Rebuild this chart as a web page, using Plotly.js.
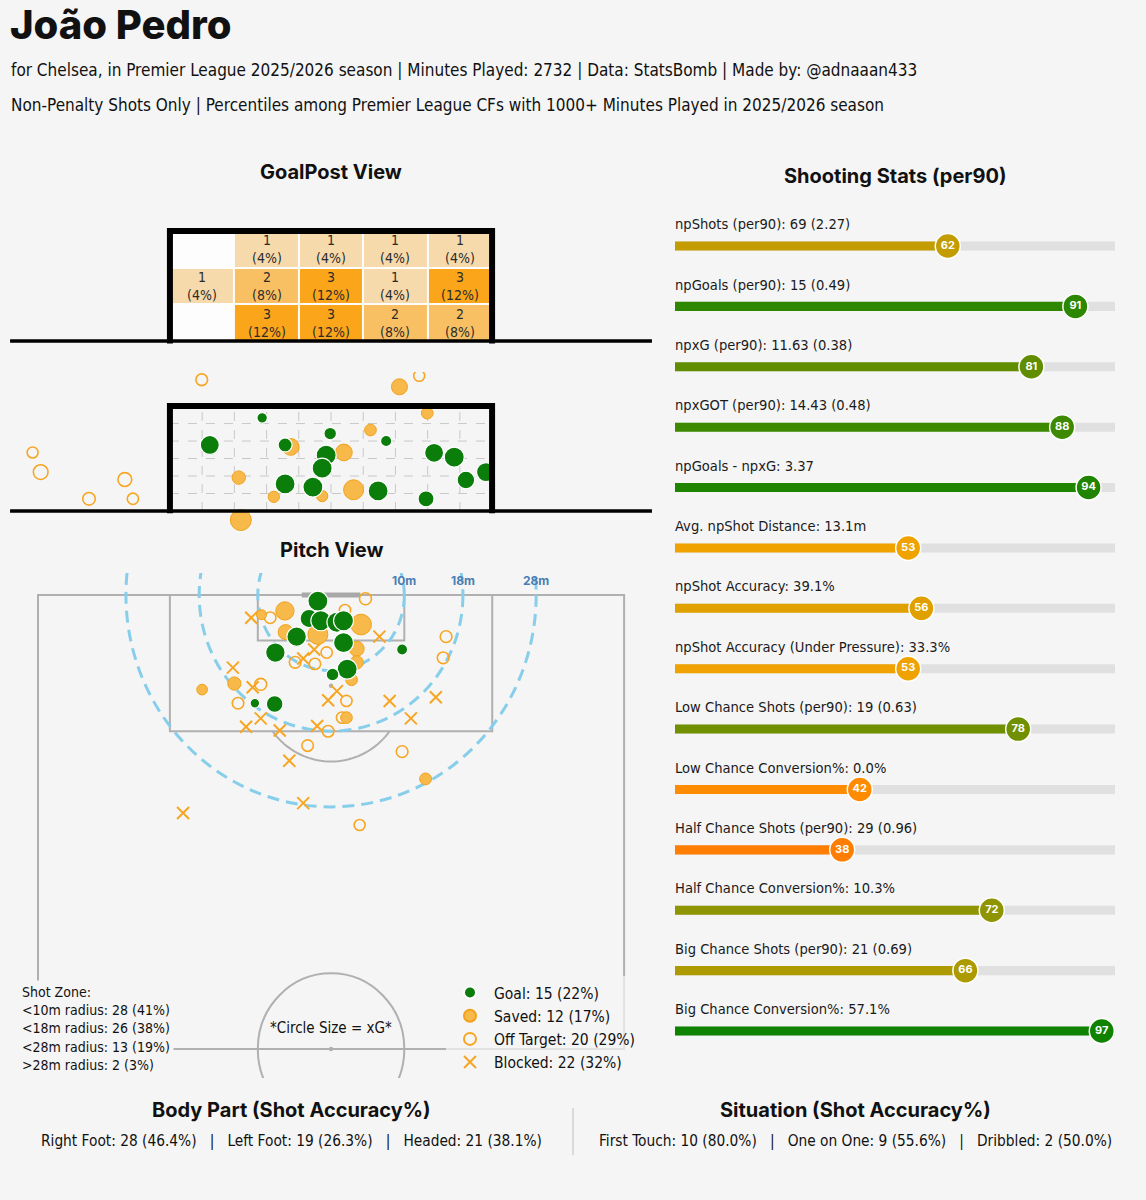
<!DOCTYPE html>
<html><head><meta charset="utf-8">
<script src="https://cdn.plot.ly/plotly-3.0.1.min.js"></script>
<style>html,body{margin:0;padding:0;background:#f5f5f5;}#chart{width:1146px;height:1200px;}</style>
</head><body><div id="chart"></div>
<script>
// ---------------- DATA ----------------
const playerName = "João Pedro";
const subtitle1 = "for Chelsea, in Premier League 2025/2026 season | Minutes Played: 2732 | Data: StatsBomb | Made by: @adnaaan433";
const subtitle2 = "Non-Penalty Shots Only | Percentiles among Premier League CFs with 1000+ Minutes Played in 2025/2026 season";

// GoalPost heat grid (top row first), 5 columns x 3 rows
const zoneCounts = [[0,1,1,1,1],[1,2,3,1,3],[0,3,3,2,2]];
const zonePct    = [[0,4,4,4,4],[4,8,12,4,12],[0,12,12,8,8]];

// Goal-mouth end locations (goal width coord, height coord, xG)
const gmGoalY  = [39.98,41.37,36.99,38.86,38.29,39.88,39.78,42.56,43.06,43.85,43.35,38.86,39.55,41.17,42.36];
const gmGoalZ  = [1.97,1.78,1.68,1.68,2.37,1.42,1.09,1.48,1.37,0.99,0.79,0.69,0.61,0.51,0.31];
const gmGoalXG = [0.082,0.059,0.25,0.111,0.047,0.284,0.284,0.25,0.284,0.25,0.206,0.284,0.284,0.284,0.16];
const gmSavedY  = [41.70,42.39,40.98,39.00,40.32,37.71,40.56,38.58,39.78,37.76];
const gmSavedZ  = [3.16,2.49,2.06,1.63,1.49,0.85,0.54,0.36,0.38,-0.23];
const gmSavedXG = [0.16,0.066,0.066,0.18,0.18,0.098,0.284,0.059,0.059,0.32];
const gmOffY  = [36.79,42.19,32.59,32.79,34.88,33.99,35.08];
const gmOffZ  = [3.34,3.44,1.49,0.99,0.80,0.31,0.31];
const gmOffXG = [0.066,0.054,0.054,0.127,0.107,0.082,0.059];

// Pitch shot locations (x = length toward goal at 120, y = width 0-80)
const shotGoalX  = [119.2,116.9,116.6,116.4,116.6,114.5,113.7,112.4,112.8,110.2,109.5,105.7,105.6];
const shotGoalY  = [38.2,37.0,38.6,40.8,41.7,35.3,41.7,32.4,49.7,42.2,40.2,29.6,32.3];
const shotGoalXG = [0.284,0.218,0.284,0.284,0.284,0.267,0.284,0.267,0.054,0.284,0.084,0.034,0.179];
const shotSavedX  = [117.9,117.4,116.1,115.1,114.8,112.9,111.1,108.8,108.3,107.5,103.8,95.7];
const shotSavedY  = [33.7,30.5,44.1,33.8,38.2,43.5,43.5,42.8,26.8,22.4,42.1,52.9];
const shotSavedXG = [0.227,0.04,0.31,0.134,0.284,0.134,0.096,0.066,0.096,0.05,0.066,0.068];
const shotOffX  = [119.5,117.0,118.0,114.5,111.7,112.4,111.1,110.9,108.2,105.7,106.0,103.8,102.0,100.1,99.3,89.6];
const shotOffY  = [44.7,31.7,41.9,55.7,55.3,39.4,35.1,37.8,30.4,27.3,42.1,41.5,39.6,36.8,49.7,43.9];
const shotOffXG = [0.071,0.062,0.058,0.066,0.066,0.06,0.064,0.06,0.07,0.062,0.058,0.06,0.064,0.062,0.066,0.054];
const shotBlockedX = [117.0,114.5,111.6,112.8,110.4,107.8,107.3,106.1,106.0,106.5,103.7,102.6,102.1,102.7,103.7,98.1,92.5,91.2];
const shotBlockedY = [29.1,46.6,36.2,37.7,26.6,29.3,40.8,39.6,48.0,54.3,30.4,28.4,33.0,38.1,50.9,34.3,36.2,19.8];

const outcomeNames  = ["Goal","Saved","Off Target","Blocked"];
const outcomeCounts = [15,12,20,22];
const outcomePct    = [22,17,29,32];

const zoneRadii   = [10,18,28];
const zoneLabels  = ["<10m radius","<18m radius","<28m radius",">28m radius"];
const zoneShotCnt = [28,26,13,2];
const zoneShotPct = [41,38,19,3];

const statLabels = ["npShots (per90): 69 (2.27)","npGoals (per90): 15 (0.49)","npxG (per90): 11.63 (0.38)",
  "npxGOT (per90): 14.43 (0.48)","npGoals - npxG: 3.37","Avg. npShot Distance: 13.1m","npShot Accuracy: 39.1%",
  "npShot Accuracy (Under Pressure): 33.3%","Low Chance Shots (per90): 19 (0.63)","Low Chance Conversion%: 0.0%",
  "Half Chance Shots (per90): 29 (0.96)","Half Chance Conversion%: 10.3%","Big Chance Shots (per90): 21 (0.69)",
  "Big Chance Conversion%: 57.1%"];
const statPct = [62,91,81,88,94,53,56,53,78,42,38,72,66,97];

const bodyParts = ["Right Foot","Left Foot","Headed"];
const bodyCounts = [28,19,21];
const bodyAcc = ["46.4","26.3","38.1"];
const situations = ["First Touch","One on One","Dribbled"];
const sitCounts = [10,9,2];
const sitAcc = ["80.0","55.6","50.0"];

// ---------------- STYLE ----------------
const W = 1146, H = 1200;
const BG = "#f5f5f5";
const HEAD = "Inter, Lato, 'Noto Sans', sans-serif";
const BODY = "'Noto Sans SemiCondensed','Noto Sans Condensed','Liberation Sans Narrow','DejaVu Sans Condensed','Noto Sans', sans-serif";
const GREEN = "#0a7d0a", ORANGE = "#f7a623", SAVEDFILL = "#f6b94a";
const PITCH = "#b0b0b0";
const GOAL_H = 2.67;
const PCT_SCALE = [[0,"#ff0000"],[0.5,"#ffa500"],[1,"#008000"]];
const xgSize = v => 4 + 30*Math.sqrt(v);
const px = v => v / W, py = v => 1 - v / H;
const NB = "\u00A0";
const SEP = NB+NB+NB+"|"+NB+NB+NB;

const traces = [];

// GoalPost heatmap
const zRows = zoneCounts.slice().reverse();
const tRows = zoneCounts.map((r,i)=>r.map((c,j)=> c ? c + "<br>(" + zonePct[i][j] + "%)" : "")).reverse();
traces.push({type:"heatmap", xaxis:"x", yaxis:"y", z: zRows.map(r=>r.map(c=>c?c:null)),
  x0: 36 + 0.8, dx: 1.6, y0: GOAL_H/6, dy: GOAL_H/3, zmin:0, zmax:3,
  colorscale:[[0,BG],[1,"#fba51a"]], showscale:false, xgap:2, ygap:2,
  text: tRows, texttemplate:"%{text}", textfont:{family:BODY,size:14,color:"#2b2b2b"}, hoverinfo:"skip"});

// Goal-mouth view
traces.push({type:"scatter", mode:"markers", xaxis:"x2", yaxis:"y2", x:gmOffY, y:gmOffZ, showlegend:false, hoverinfo:"skip",
  marker:{size:gmOffXG.map(xgSize), opacity:1, color:"rgba(0,0,0,0)", line:{color:ORANGE, width:1.6}}});
traces.push({type:"scatter", mode:"markers", xaxis:"x2", yaxis:"y2", x:gmSavedY, y:gmSavedZ, showlegend:false, hoverinfo:"skip",
  marker:{size:gmSavedXG.map(xgSize), opacity:1, color:SAVEDFILL, line:{color:"#f2a21c", width:1}}});
traces.push({type:"scatter", mode:"markers", xaxis:"x2", yaxis:"y2", x:gmGoalY, y:gmGoalZ, showlegend:false, hoverinfo:"skip",
  marker:{size:gmGoalXG.map(xgSize), opacity:1, color:GREEN, line:{color:"#ffffff", width:1.2}}});

// Pitch view
traces.push({type:"scatter", mode:"markers", xaxis:"x3", yaxis:"y3", x:shotBlockedY, y:shotBlockedX,
  name: outcomeNames[3]+": "+outcomeCounts[3]+" ("+outcomePct[3]+"%)", legendrank:4, hoverinfo:"skip",
  marker:{symbol:"x-thin-open", size:12, opacity:1, color:ORANGE, line:{color:ORANGE, width:2}}});
traces.push({type:"scatter", mode:"markers", xaxis:"x3", yaxis:"y3", x:shotOffY, y:shotOffX,
  name: outcomeNames[2]+": "+outcomeCounts[2]+" ("+outcomePct[2]+"%)", legendrank:3, hoverinfo:"skip",
  marker:{size:shotOffXG.map(xgSize), opacity:1, color:"rgba(0,0,0,0)", line:{color:ORANGE, width:1.6}}});
traces.push({type:"scatter", mode:"markers", xaxis:"x3", yaxis:"y3", x:shotSavedY, y:shotSavedX,
  name: outcomeNames[1]+": "+outcomeCounts[1]+" ("+outcomePct[1]+"%)", legendrank:2, hoverinfo:"skip",
  marker:{size:shotSavedXG.map(xgSize), opacity:1, color:SAVEDFILL, line:{color:"#f2a21c", width:1}}});
traces.push({type:"scatter", mode:"markers", xaxis:"x3", yaxis:"y3", x:shotGoalY, y:shotGoalX,
  name: outcomeNames[0]+": "+outcomeCounts[0]+" ("+outcomePct[0]+"%)", legendrank:1, hoverinfo:"skip",
  marker:{size:shotGoalXG.map(xgSize), opacity:1, color:GREEN, line:{color:"#ffffff", width:1.2}}});

// Stats bars
const idx = statPct.map((_,i)=>i);
traces.push({type:"bar", orientation:"h", xaxis:"x4", yaxis:"y4", x:statPct.map(()=>100), y:idx, width:0.15,
  marker:{color:"#e0e0e0"}, showlegend:false, hoverinfo:"skip"});
traces.push({type:"bar", orientation:"h", xaxis:"x4", yaxis:"y4", x:statPct, y:idx, width:0.15,
  marker:{color:statPct, colorscale:PCT_SCALE, cmin:0, cmax:100}, showlegend:false, hoverinfo:"skip"});
traces.push({type:"scatter", mode:"markers+text", xaxis:"x4", yaxis:"y4", x:statPct, y:idx, text:statPct.map(String),
  textposition:"middle center", textfont:{family:HEAD, size:11, color:"#ffffff", weight:700},
  marker:{size:25, opacity:1, color:statPct, colorscale:PCT_SCALE, cmin:0, cmax:100, line:{color:"#ffffff", width:1.5}},
  showlegend:false, hoverinfo:"skip", cliponaxis:false});

// ---------------- SHAPES ----------------
const shapes = [];
// goal view 1
shapes.push({type:"rect", xref:"x", yref:"y", x0:36, x1:44, y0:0, y1:GOAL_H, fillcolor:"rgba(255,255,255,0.8)", line:{width:0}, layer:"below"});
shapes.push({type:"line", xref:"x", yref:"y", x0:32.03, x1:47.97, y0:0, y1:0, line:{color:"#000", width:3.5}});
shapes.push({type:"path", xref:"x", yref:"y", path:`M36,-0.06 L36,${GOAL_H} L44,${GOAL_H} L44,-0.06`, line:{color:"#000", width:6}});
// goal view 2
for (let k=1;k<10;k++) shapes.push({type:"line", xref:"x2", yref:"y2", x0:36+0.8*k, x1:36+0.8*k, y0:0, y1:GOAL_H, line:{color:"#c8c8c8", width:1, dash:"dash"}, layer:"below"});
for (let k=1;k<6;k++) shapes.push({type:"line", xref:"x2", yref:"y2", x0:36, x1:44, y0:GOAL_H*k/6, y1:GOAL_H*k/6, line:{color:"#c8c8c8", width:1, dash:"dash"}, layer:"below"});
shapes.push({type:"line", xref:"x2", yref:"y2", x0:32.03, x1:47.97, y0:0, y1:0, line:{color:"#000", width:3.5}});
shapes.push({type:"path", xref:"x2", yref:"y2", path:`M36,-0.06 L36,${GOAL_H} L44,${GOAL_H} L44,-0.06`, line:{color:"#000", width:6}});
// pitch
const pl = {color:PITCH, width:2};
shapes.push({type:"rect", xref:"x3", yref:"y3", x0:0, x1:80, y0:60, y1:120, line:pl, layer:"below"});
shapes.push({type:"rect", xref:"x3", yref:"y3", x0:18, x1:62, y0:102, y1:120, line:pl, layer:"below"});
shapes.push({type:"rect", xref:"x3", yref:"y3", x0:30, x1:50, y0:114, y1:120, line:pl, layer:"below"});
shapes.push({type:"line", xref:"x3", yref:"y3", x0:36, x1:44, y0:120, y1:120, line:{color:"#a8a8a8", width:5}, layer:"below"});
shapes.push({type:"circle", xref:"x3", yref:"y3", x0:30, x1:50, y0:50, y1:70, line:pl, layer:"below"});
shapes.push({type:"circle", xref:"x3", yref:"y3", x0:39.7, x1:40.3, y0:59.7, y1:60.3, fillcolor:PITCH, line:{width:0}, layer:"below"});
shapes.push({type:"circle", xref:"x3", yref:"y3", x0:39.7, x1:40.3, y0:107.7, y1:108.3, fillcolor:PITCH, line:{width:0}, layer:"below"});
(function(){
  const a0 = Math.acos(0.6); let p = "";
  for (let i=0;i<=40;i++){ const a = -a0 + 2*a0*i/40; const X = 40 + 10*Math.sin(a), Y = 108 - 10*Math.cos(a); p += (i?" L":"M")+X.toFixed(3)+","+Y.toFixed(3);}
  shapes.push({type:"path", xref:"x3", yref:"y3", path:p, line:pl, layer:"below"});
})();
zoneRadii.forEach(r => shapes.push({type:"circle", xref:"x3", yref:"y3", x0:40-r, x1:40+r, y0:120-r, y1:120+r,
  line:{color:"#87ceeb", width:3, dash:"12px,7px"}, layer:"below"}));
// separator
shapes.push({type:"line", xref:"paper", yref:"paper", x0:px(573), x1:px(573), y0:py(1108), y1:py(1155), line:{color:"#d0d0d0", width:1.5}});

// ---------------- ANNOTATIONS ----------------
const ann = [];
const A = (o) => ann.push(Object.assign({showarrow:false, xref:"paper", yref:"paper", xanchor:"center", yanchor:"middle"}, o));
A({x:px(8), y:py(24), xanchor:"left", text:playerName, font:{family:HEAD, size:40, weight:800, color:"#111"}});
A({x:px(9), y:py(70), xanchor:"left", text:subtitle1, font:{family:BODY, size:17, color:"#111"}});
A({x:px(9), y:py(105), xanchor:"left", text:subtitle2, font:{family:BODY, size:17, color:"#111"}});
A({x:px(331), y:py(172), text:"GoalPost View", font:{family:HEAD, size:20, weight:700, color:"#111"}});
A({x:px(895), y:py(176), text:"Shooting Stats (per90)", font:{family:HEAD, size:20, weight:700, color:"#111"}});
A({x:px(331), y:py(550), text:"Pitch View", font:{family:HEAD, size:20, weight:700, color:"#111"}});
A({x:px(291), y:py(1110), text:"Body Part (Shot Accuracy%)", font:{family:HEAD, size:20, weight:700, color:"#111"}});
A({x:px(855), y:py(1110), text:"Situation (Shot Accuracy%)", font:{family:HEAD, size:20, weight:700, color:"#111"}});
A({x:px(291), y:py(1141), text:bodyParts.map((b,i)=>b+": "+bodyCounts[i]+" ("+bodyAcc[i]+"%)").join(SEP), font:{family:BODY, size:15.3, color:"#111"}});
A({x:px(855), y:py(1141), text:situations.map((b,i)=>b+": "+sitCounts[i]+" ("+sitAcc[i]+"%)").join(SEP), font:{family:BODY, size:15.3, color:"#111"}});
const esc = s => s.replace(/</g,"&lt;").replace(/>/g,"&gt;");
A({x:px(18), y:py(980), xanchor:"left", yanchor:"top", align:"left", bgcolor:BG, borderpad:3,
  text:"Shot Zone:<br>" + zoneLabels.map((z,i)=>esc(z)+": "+zoneShotCnt[i]+" ("+zoneShotPct[i]+"%)").join("<br>"),
  font:{family:BODY, size:14, color:"#111"}});
A({x:px(331), y:py(1028), text:"*Circle Size = xG*", font:{family:BODY, size:15, color:"#111"}});
zoneRadii.forEach(r => ann.push({showarrow:false, xref:"x3", yref:"y3", x:40+r, y:121.9, text:r+"m",
  xanchor:"center", yanchor:"middle", font:{family:HEAD, size:12, weight:700, color:"#4a7db3"}}));
statLabels.forEach((s,i) => ann.push({showarrow:false, xref:"x4", yref:"y4", x:-0.5, y:i-0.37, xanchor:"left", yanchor:"middle",
  text:s, font:{family:BODY, size:14.6, color:"#1a1a1a"}}));

// ---------------- LAYOUT ----------------
const ax = (o) => Object.assign({visible:false, showgrid:false, zeroline:false, fixedrange:true}, o);
const layout = {
  width:W, height:H, autosize:false, margin:{l:0,r:0,t:0,b:0},
  paper_bgcolor:BG, plot_bgcolor:"rgba(0,0,0,0)", barmode:"overlay",
  showlegend:true,
  legend:{x:px(446), y:py(976), xanchor:"left", yanchor:"top", bgcolor:"rgba(245,245,245,0.72)",
    font:{family:BODY, size:15.5, color:"#111"}, itemsizing:"constant", itemwidth:38, traceorder:"normal"},
  xaxis: ax({domain:[0, px(660)], range:[31.78, 48.17], anchor:"y"}),
  yaxis: ax({domain:[py(350), py(205)], range:[-0.218, 3.30], anchor:"x"}),
  xaxis2: ax({domain:[0, px(660)], range:[31.78, 48.17], anchor:"y2"}),
  yaxis2: ax({domain:[py(535), py(372)], range:[-0.611, 3.537], anchor:"x2"}),
  xaxis3: ax({domain:[0, px(660)], range:[-5.19, 84.9], anchor:"y3"}),
  yaxis3: ax({domain:[py(1078), py(573)], range:[56.17, 122.91], anchor:"x3"}),
  xaxis4: ax({domain:[px(660), 1], range:[-3.41, 107.05], anchor:"y4"}),
  yaxis4: ax({domain:[py(1060), py(200)], range:[13.48, -0.762], anchor:"x4"}),
  shapes: shapes, annotations: ann, hovermode:false
};
Plotly.newPlot("chart", traces, layout, {displayModeBar:false, staticPlot:true});
</script></body></html>
